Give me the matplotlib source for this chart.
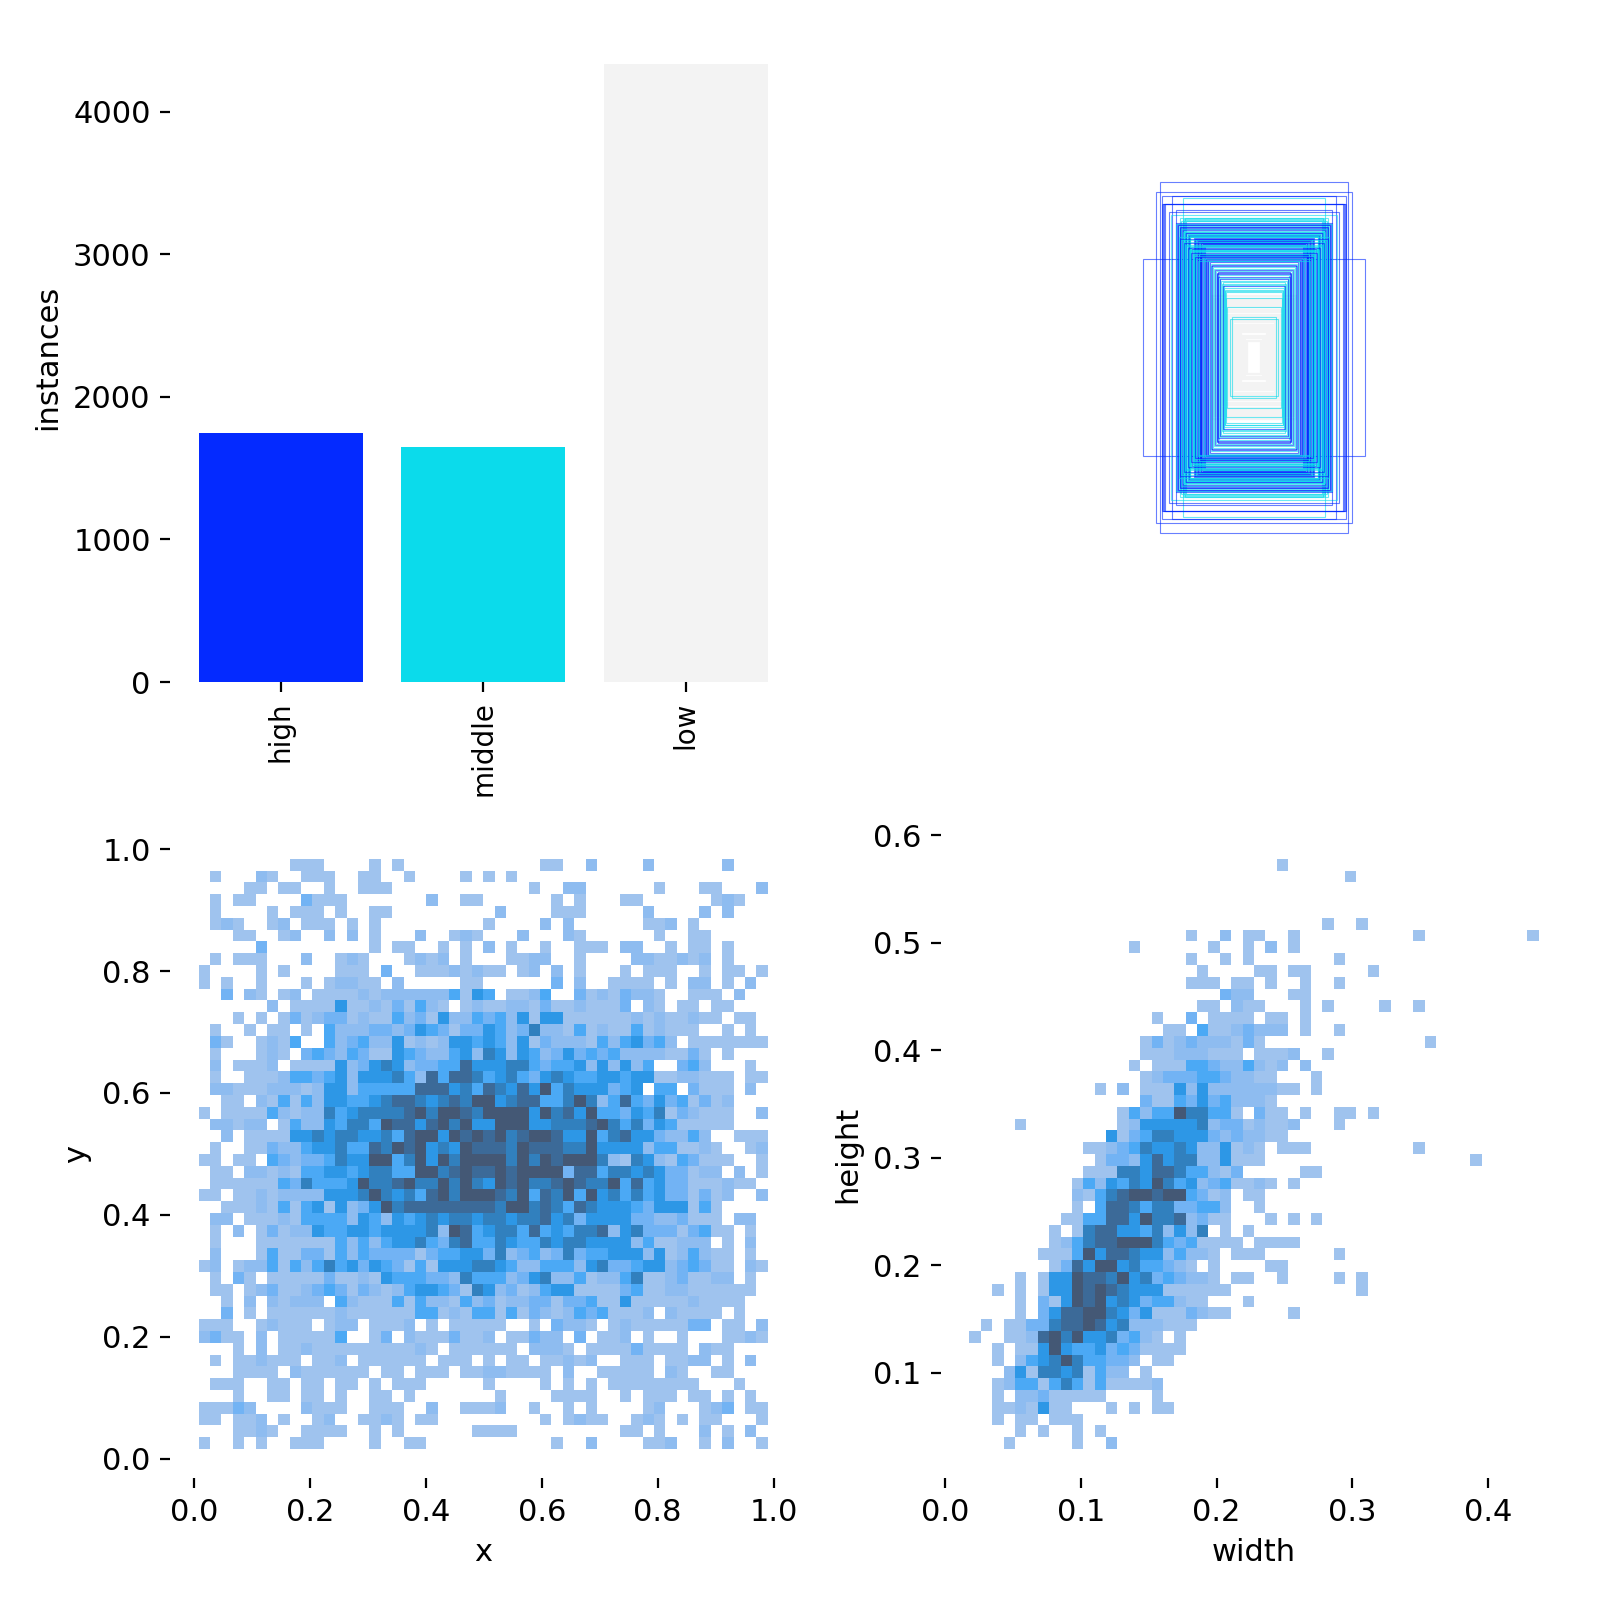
import numpy as np
import matplotlib
matplotlib.use('Agg')
import matplotlib.pyplot as plt
from matplotlib.colors import ListedColormap
from matplotlib.patches import Rectangle

plt.rcParams['font.size'] = 11

# class bars
names = ['high', 'middle', 'low']
counts = [1746, 1646, 4336]
class_colors = ['#042AFF', '#0BDBEB', '#F3F3F3']

# sample of label boxes (width, height, class), all centred
box_w = [.300, .314, .293, .354, .262, .228, .295, .291, .287, .284, .271, .265, .250, .238,
         .222, .228, .225, .218, .232,
         .250, .246, .242, .238, .234, .230, .248, .244, .240, .236, .232, .228,
         .226, .222, .218, .214, .210, .208, .206, .224, .220, .216, .212, .209, .207, .205, .203,
         .192, .188, .184, .180, .176, .172, .168, .164, .160, .190, .186, .182, .178, .174, .170, .166, .162, .158,
         .204, .200, .196, .202, .198, .194, .192, .190,
         .178, .174, .170, .158, .154, .150, .146, .176, .172, .168, .156, .152, .148, .144,
         .240, .236, .232, .228, .224, .220, .216, .212, .208, .204, .200, .196, .192, .188, .184, .180,
         .136, .130, .116, .119, .112, .098, .095, .092, .090, .085, .070, .076,
         .142, .138, .134, .128, .124, .120, .118, .114, .110, .108, .104, .102, .100, .096, .094, .088,
         .135, .128, .122, .116, .110, .104, .098, .092, .086, .080, .074, .068, .062, .056, .050, .045,
         .040, .034, .028, .022]
box_h = [.560, .529, .517, .315, .517, .510, .490, .490, .490, .490, .466, .455, .470, .445,
         .446, .442, .439, .437, .435,
         .430, .426, .422, .418, .414, .410, .428, .424, .420, .416, .412, .408,
         .402, .399, .396, .393, .390, .388, .386, .404, .401, .398, .395, .392, .389, .387, .384,
         .381, .378, .376, .373, .370, .368, .365, .362, .359, .380, .377, .374, .371, .369, .366, .363, .360, .357,
         .354, .348, .343, .352, .346, .341, .339, .337,
         .332, .328, .325, .321, .318, .314, .310, .330, .327, .323, .320, .316, .312, .308,
         .385, .380, .375, .370, .365, .360, .355, .350, .345, .340, .335, .330, .325, .320, .315, .310,
         .293, .288, .272, .267, .263, .240, .232, .217, .210, .160, .130, .122,
         .305, .300, .296, .284, .280, .276, .270, .258, .254, .250, .246, .236, .228, .222, .214, .190,
         .195, .188, .182, .174, .168, .160, .152, .144, .136, .128, .120, .112, .104, .096, .090, .086,
         .080, .070, .062, .054]
box_c = [0, 0, 0, 0, 0, 1, 0, 0, 0, 0, 0, 1, 0, 1,
         1, 1, 1, 1, 1,
         0, 0, 0, 0, 0, 0, 1, 0, 1, 0, 1, 0,
         1, 0, 1, 1, 0, 1, 1, 1, 1, 0, 1, 1, 0, 1, 1,
         0, 0, 0, 0, 0, 0, 0, 0, 0, 0, 1, 0, 0, 1, 0, 0, 1, 0,
         1, 1, 1, 1, 0, 1, 1, 1,
         0, 0, 0, 0, 0, 0, 0, 1, 0, 0, 1, 0, 0, 1,
         1, 0, 1, 1, 0, 1, 1, 0, 1, 1, 0, 1, 1, 0, 1, 1,
         0, 1, 0, 0, 1, 1, 1, 1, 1, 1, 1, 1,
         0, 1, 0, 1, 0, 1, 0, 0, 1, 0, 1, 1, 0, 1, 1, 1,
         2, 2, 2, 2, 2, 2, 2, 2, 2, 2, 2, 2, 2, 2, 2, 2,
         2, 2, 2, 2]

# 2d histogram levels, top row first, 0 = empty cell
xy_rows = [
    '000000001110000101000000' '00000011002000020000002000',
    '010002100111001100100001' '01010000000000000000000000',
    '000011011001001110000000' '00000100220000001000110002',
    '010110000311100000002001' '10000001010001100000012100',
    '010000101110100110000000' '00200001110000020000202000',
    '012100120111010100000000' '01000020200000011201000000',
    '000110012002020100020012' '10002000210000001001100000',
    '000003000000000101100101' '02010010011102200101101000',
    '010111000200121000121201' '00011220010000221121201000',
    '100001010000111030011121' '21101202010001011100101101',
    '101001000101221102000001' '10000003020011110102201020',
    '003021012011112122222241' '54011240031213221001110200',
    '000000201111511213142101' '21122131121113021011011000',
    '000101013123312114231522' '43425155111111212112110110',
    '010010110104222332354313' '35423622141211412111001010',
    '031001214004234225121255' '45425132221424534201111111',
    '010001210343243115432245' '26525423534342222113101000',
    '020111201111523565233447' '55566434452525240034200010',
    '010011124434525556427477' '64564356544554551122111011',
    '022111222125524444477756' '47657584655534504403111020',
    '001102141425544567765676' '88567744686247435341312000',
    '101111421226456666786887' '68888586758443546132111002',
    '022122014225466487757868' '55888556667864635411111000',
    '002011115565665564788587' '87867887558467553224200111',
    '010011322455644768785658' '77768777668555524411210012',
    '110110432334655884685868' '88868687888621652143111001',
    '011022121445545664488678' '77878888377466565331220201',
    '011111143644458667866868' '65878667876684745331112110',
    '110112122225556865647868' '88768476848564645331312002',
    '001112141451523586777777' '77688676476555435551410000',
    '022011121444425425456566' '56656675635555332231110220',
    '010201312254455455556287' '45664745466725633313411010',
    '010001111111424245564367' '44654465665555241122201020',
    '020001411331424333313445' '53623423634455525124211010',
    '120122414246453543141555' '66542244425633455234311021',
    '010310111113112154443326' '44423562241224611231122010',
    '011012311234313212455431' '65231245511113411221111110',
    '001020212220421114142214' '23122331334115111112111100',
    '003010111111211111144121' '44141321243411120211110100',
    '111001211101220111201011' '11100103221012111113301102',
    '231102011111400130211131' '12011322030112010010001121',
    '000102011211111111121011' '11110222101111311110211000',
    '010112111011201111110111' '01011011212001110112201020',
    '000111102111111011011101' '12211110200111110210011000',
    '011100110110110101110000' '01000010101011111111000100',
    '000100110110100110100000' '00100001111001011101101010',
    '111320000211100111002001' '11200100101000012000123011',
    '110112010012001121011000' '00000010121100121010110001',
    '000112100111100101000000' '11110000000001101000201020',
    '100101001110000100110000' '00000001002000011200102001',
]
wh_rows = [
    '0000000000 0000000000 0000000100',
    '0000000000 0000000000 0000000000 0001',
    '',
    '',
    '',
    '0000000000 0000000000 0000000000 0100100000',
    '0000000000 0000000001 0020110010 0000000001 0000000001',
    '0000000000 0000100000 0100102010',
    '0000000000 0000000001 0010100000 0010000000',
    '0000000000 0000000000 1000011011 0000010000',
    '0000000000 0000000001 1101101001 0010000000',
    '0000000000 0000000000 0032200011',
    '0000000000 0000000000 1102110001 0100001001',
    '0000000000 0000001003 0111101101',
    '0000000000 0000000110 4112322201 0010000000',
    '0000000000 0000013123 2221310000 0000000000 1',
    '0000000000 0000011122 2111011120 0100000000',
    '0000000000 0000101114 4322421202',
    '0000000000 0000012333 4432211000 1000000000',
    '0000000000 0102011152 5222222110 1000000000',
    '0000000000 0000031143 5342221000',
    '0000000000 0001424486 6441031101 0011010000',
    '0000100000 0001255555 6233121120 0010000000',
    '0000000000 0051346655 5323221100',
    '0000000000 1123465565 2251210111 0000000001',
    '0000000000 0133257566 2251110000 0000000000 0000100000',
    '0000000000 1116657764 4213000001 1',
    '0000000001 4254658645 2341121010',
    '0000000002 1467887884 3120110000',
    '0000000001 0477646633 4420010000',
    '0000000011 4477586672 3110001010 1',
    '0000000101 6775546252 6010100000',
    '0000000124 6778886434 1111011110',
    '0000001114 8577655242 2101110000 0010000000',
    '0000000137 5885644321 0100001100',
    '0000101558 7768563432 2101100100 0010100000',
    '0010101558 7876555111 1110000000 0000100000',
    '0000103158 7856534421 1000100000',
    '0000103577 8865351113 2110000010',
    '0101133677 8756222111',
    '1001127868 5563421010',
    '0010115854 4534311110',
    '0010245686 4433201100',
    '0002516656 1422010000',
    '0012441464 1411112000',
    '0010223111 1100001000',
    '0011215110 0010101100',
    '0010110111',
    '0000101001 0100000000',
    '0001000001 0020000000',
]
# extents of the 50 bins
xy_xrange = (0.0074, 0.990)
xy_yrange = (0.016, 0.984)
wh_xrange = (0.018, 0.437)
wh_yrange = (0.029, 0.578)

level_colors = ['#9FC3EE', '#8EBCF0', '#72B3F4', '#4BA9F5', '#2D97E6', '#3180BE', '#3C6A98', '#445875']
cmap = ListedColormap(level_colors)


def draw_hist(ax, rows, xr, yr):
    grid = np.array([[int(v) for v in r.replace(' ', '').ljust(50, '0')] for r in rows], dtype=float)
    grid = np.ma.masked_equal(grid[::-1], 0)
    xe = np.linspace(xr[0], xr[1], 51)
    ye = np.linspace(yr[0], yr[1], 51)
    mesh = ax.pcolormesh(xe, ye, grid, cmap=cmap, vmin=0.5, vmax=8.5, linewidth=0)
    mesh.sticky_edges.x[:] = []
    mesh.sticky_edges.y[:] = []
    ax.autoscale_view()


fig, ax = plt.subplots(2, 2, figsize=(8, 8), dpi=200, tight_layout=True)
ax = ax.ravel()

ax[0].bar(range(3), counts, width=0.81, color=class_colors)
ax[0].set_ylabel('instances')
ax[0].set_xticks(range(3))
ax[0].set_xticklabels(names, rotation=90, fontsize=10)

ax[1].imshow(np.ones((2000, 2000, 3)), extent=(0, 1, 1, 0))
for w, h, c in zip(box_w, box_h, box_c):
    # the grey class sits under the others and fills the middle
    lw = 0.8 if c == 2 else 0.4
    ax[1].add_patch(Rectangle((0.5 - w / 2, 0.5 - h / 2), w, h, fill=False, edgecolor=class_colors[c],
                              linewidth=lw, alpha=1 if c == 2 else 0.6, zorder=2 if c == 2 else 3))
ax[1].axis('off')

draw_hist(ax[2], xy_rows, xy_xrange, xy_yrange)
ax[2].set_xlabel('x')
ax[2].set_ylabel('y')
draw_hist(ax[3], wh_rows, wh_xrange, wh_yrange)
ax[3].set_xlabel('width')
ax[3].set_ylabel('height')

for a in [ax[0], ax[1], ax[2], ax[3]]:
    for s in ['top', 'right', 'left', 'bottom']:
        a.spines[s].set_visible(False)

plt.savefig('out.png', dpi=200)
